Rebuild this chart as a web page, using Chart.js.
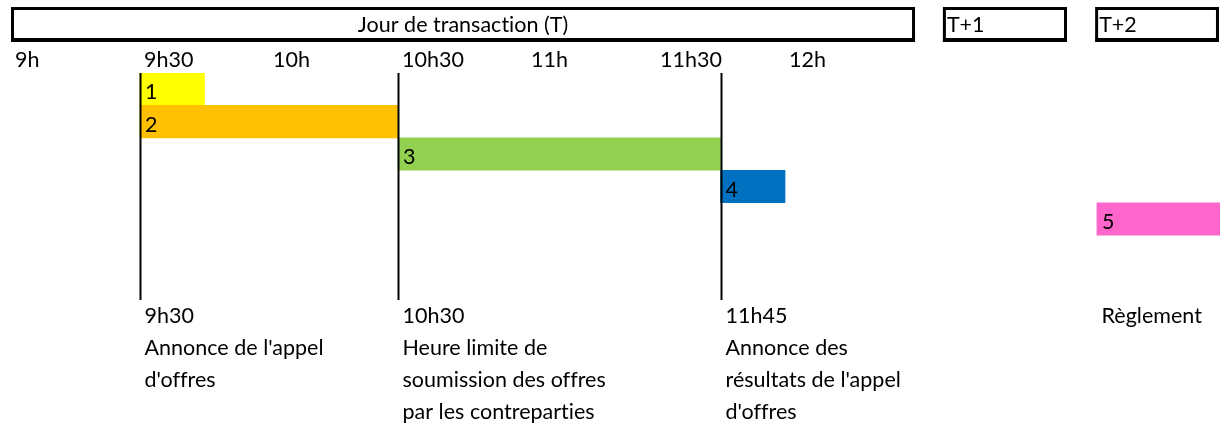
<!DOCTYPE html>
<html>
<head>
<meta charset="utf-8">
<script src="https://cdn.jsdelivr.net/npm/chart.js@4/dist/chart.umd.min.js"></script>
<style>
  html, body { margin: 0; padding: 0; background: #fff; }
  #wrap { width: 1224px; height: 425px; }
</style>
</head>
<body>
<div id="wrap"><canvas id="timeline" width="1224" height="425"></canvas></div>
<script>
// Steps of the tender (hours, decimal). Step 5 sits in the T+2 column.
const steps = ['1', '2', '3', '4', '5', '', ' '];
const stepStart = [9.5, 9.5, 10.5, 11.75, 13.209, null, null];
const stepEnd = [9.75, 10.5, 11.75, 12.0, 13.686, null, null];
const stepColors = ['#FFFF00', '#FFC000', '#92D050', '#0070C0', '#FF66CC', '#fff', '#fff'];

// Hour ticks along the top
const hourTicks = [9, 9.5, 10, 10.5, 11, 11.5, 12];
const hourLabels = ['9h', '9h30', '10h', '10h30', '11h', '11h30', '12h'];

// Day boxes in the header
const dayLabels = ['Jour de transaction (T)', 'T+1', 'T+2'];
const dayFrom = [9, 12.612, 13.202];
const dayTo = [12.504, 13.093, 13.682];

// Milestones marked by vertical lines, with notes below
const milestoneAt = [9.5, 10.5, 11.75, 13.209];
const milestoneLine = [true, true, true, false];
const milestoneNotes = [
    ['9h30', "Annonce de l'appel", "d'offres"],
    ['10h30', 'Heure limite de', 'soumission des offres', 'par les contreparties'],
    ['11h45', 'Annonce des', "résultats de l'appel", "d'offres"],
    ['Règlement']
];

const FONT = '21.5px Lato';

const timelinePlugin = {
    id: 'timeline',
    afterDatasetsDraw(chart) {
        const ctx = chart.ctx;
        const x = chart.scales.x;
        const area = chart.chartArea;
        ctx.save();
        ctx.fillStyle = '#000';
        ctx.strokeStyle = '#000';
        ctx.font = FONT;
        ctx.letterSpacing = '0.01px'; // avoids the "ti" ligature
        ctx.textBaseline = 'alphabetic';

        // header boxes (thicker bottom edge like the spreadsheet border)
        ctx.lineWidth = 3;
        dayLabels.forEach((lab, i) => {
            const x0 = x.getPixelForValue(dayFrom[i]);
            const x1 = x.getPixelForValue(dayTo[i]);
            ctx.strokeRect(x0 + 1.5, 8.5, x1 - x0 - 3, 31);
            ctx.fillRect(x0, 39, x1 - x0, 3);
            if (i === 0) {
                ctx.textAlign = 'center';
                ctx.fillText(lab, (x0 + x1) / 2, 32);
            } else {
                ctx.textAlign = 'left';
                ctx.fillText(lab, x0 + 4, 32);
            }
        });

        // hour labels
        ctx.textAlign = 'left';
        hourTicks.forEach((h, i) => {
            ctx.fillText(hourLabels[i], x.getPixelForValue(h) + 4, 67);
        });

        // step numbers inside bars
        const meta = chart.getDatasetMeta(0);
        meta.data.forEach((bar, i) => {
            if (stepStart[i] == null) return;
            ctx.fillText(steps[i], x.getPixelForValue(stepStart[i]) + 5, bar.y + 10);
        });

        // milestone lines and notes
        ctx.lineWidth = 2;
        milestoneAt.forEach((m, i) => {
            const px = Math.round(x.getPixelForValue(m)) + 0.5;
            if (milestoneLine[i]) {
                ctx.beginPath();
                ctx.moveTo(px, area.top);
                ctx.lineTo(px, area.bottom);
                ctx.stroke();
            }
            milestoneNotes[i].forEach((line, j) => {
                ctx.fillText(line, px + 4, 323 + j * 32);
            });
        });
        ctx.restore();
    }
};

new Chart(document.getElementById('timeline'), {
    type: 'bar',
    data: {
        labels: steps,
        datasets: [{
            data: steps.map((s, i) => stepStart[i] == null ? null : [stepStart[i], stepEnd[i]]),
            backgroundColor: stepColors,
            borderWidth: 0,
            barPercentage: 1,
            categoryPercentage: 1
        }]
    },
    options: {
        indexAxis: 'y',
        responsive: false,
        animation: false,
        layout: { padding: { left: 11, right: 4, top: 73, bottom: 125 } },
        plugins: { legend: { display: false }, tooltip: { enabled: false } },
        scales: {
            x: { type: 'linear', min: 9, max: 13.686, display: false },
            y: { display: false }
        }
    },
    plugins: [timelinePlugin]
});
</script>
</body>
</html>
